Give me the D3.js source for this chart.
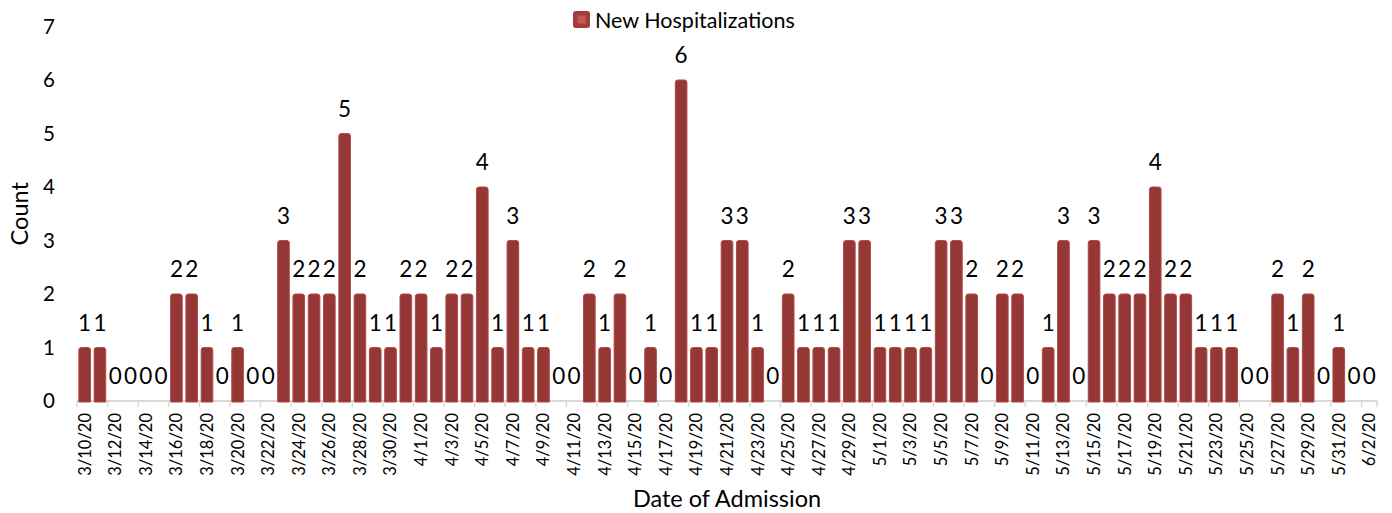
<!DOCTYPE html>
<html>
<head>
<meta charset="utf-8">
<script src="https://cdn.jsdelivr.net/npm/d3@7"></script>
<style>
  body { margin: 0; background: #fff; }
  svg { display: block; font-family: Lato, "Open Sans", sans-serif; }
</style>
</head>
<body>
<svg id="chart" width="1392" height="513"></svg>
<script>
// daily admissions, 3/10/20 - 6/2/20
const dates = [
  '3/10/20','3/11/20','3/12/20','3/13/20','3/14/20','3/15/20','3/16/20','3/17/20','3/18/20','3/19/20',
  '3/20/20','3/21/20','3/22/20','3/23/20','3/24/20','3/25/20','3/26/20','3/27/20','3/28/20','3/29/20',
  '3/30/20','3/31/20','4/1/20','4/2/20','4/3/20','4/4/20','4/5/20','4/6/20','4/7/20','4/8/20',
  '4/9/20','4/10/20','4/11/20','4/12/20','4/13/20','4/14/20','4/15/20','4/16/20','4/17/20','4/18/20',
  '4/19/20','4/20/20','4/21/20','4/22/20','4/23/20','4/24/20','4/25/20','4/26/20','4/27/20','4/28/20',
  '4/29/20','4/30/20','5/1/20','5/2/20','5/3/20','5/4/20','5/5/20','5/6/20','5/7/20','5/8/20',
  '5/9/20','5/10/20','5/11/20','5/12/20','5/13/20','5/14/20','5/15/20','5/16/20','5/17/20','5/18/20',
  '5/19/20','5/20/20','5/21/20','5/22/20','5/23/20','5/24/20','5/25/20','5/26/20','5/27/20','5/28/20',
  '5/29/20','5/30/20','5/31/20','6/1/20','6/2/20'
];
const newHosp = [
  1,1,0,0,0,0,2,2,1,0,
  1,0,0,3,2,2,2,5,2,1,
  1,2,2,1,2,2,4,1,3,1,
  1,0,0,2,1,2,0,1,0,6,
  1,1,3,3,1,0,2,1,1,1,
  3,3,1,1,1,1,3,3,2,0,
  2,2,0,1,3,0,3,2,2,2,
  4,2,2,1,1,1,0,0,2,1,
  2,0,1,0,0
];
const yTicks = [0,1,2,3,4,5,6,7];
const seriesName = 'New Hospitalizations';

const barColor = '#953735';
const barEdge = '#b04947';
const axisColor = '#d9d9d9';

const svg = d3.select('#chart');
const pad = 0.24;

let x = d3.scaleBand()
  .domain(dates)
  .range([77, 1377])
  .paddingInner(pad)
  .paddingOuter(pad / 2);

let y = d3.scaleLinear().domain([0, 7]).range([401, 26.5]);

// x axis line + boundary ticks every 2 days
let xAxis = svg.append('g').attr('transform', 'translate(0,401)');
xAxis.append('line')
  .attr('x1', x.range()[0]).attr('x2', x.range()[1])
  .attr('stroke', axisColor).attr('stroke-width', 2);

let half = x.step() * pad / 2;
let tickCats = dates.filter((d, i) => i % 2 === 0);
let tickPos = tickCats.map(d => x(d) - half).concat([x.range()[1]]);
xAxis.selectAll('line.tick')
  .data(tickPos)
  .join('line')
  .attr('class', 'tick')
  .attr('x1', d => d).attr('x2', d => d)
  .attr('y1', 0).attr('y2', 6)
  .attr('stroke', axisColor).attr('stroke-width', 1.5);

xAxis.selectAll('text.lbl')
  .data(tickCats)
  .join('text')
  .attr('class', 'lbl')
  .attr('transform', d => `translate(${x(d) + x.bandwidth() / 2},12) rotate(-90)`)
  .attr('dy', '0.36em')
  .attr('text-anchor', 'end')
  .attr('font-size', 16.5)
  .attr('fill', '#000')
  .text(d => d);

// y tick labels (no axis line)
svg.append('g')
  .selectAll('text')
  .data(yTicks)
  .join('text')
  .attr('x', 55)
  .attr('y', d => y(d))
  .attr('dy', '0.36em')
  .attr('text-anchor', 'end')
  .attr('font-size', 20.5)
  .attr('fill', '#000')
  .text(d => d);

// bars, rounded top corners
let bars = svg.append('g');
newHosp.forEach((v, i) => {
  if (v <= 0) return;
  let x0 = x(dates[i]), w = x.bandwidth();
  let top = y(v), bot = y(0) + 1, r = 2.5;
  bars.append('path')
    .attr('d', `M${x0},${bot} V${top + r} Q${x0},${top} ${x0 + r},${top} H${x0 + w - r} Q${x0 + w},${top} ${x0 + w},${top + r} V${bot} Z`)
    .attr('fill', barColor)
    .attr('stroke', barEdge)
    .attr('stroke-width', 1);
});

// data labels
svg.append('g')
  .selectAll('text')
  .data(newHosp)
  .join('text')
  .attr('x', (d, i) => x(dates[i]) + x.bandwidth() / 2)
  .attr('y', d => y(d) - 17)
  .attr('text-anchor', 'middle')
  .attr('font-size', 22.5)
  .attr('fill', '#000')
  .text(d => d);

// axis titles
svg.append('text')
  .attr('transform', `translate(28,${(y(0) + y(7)) / 2}) rotate(-90)`)
  .attr('text-anchor', 'middle')
  .attr('font-size', 23.5)
  .attr('fill', '#000')
  .text('Count');

svg.append('text')
  .attr('x', (x.range()[0] + x.range()[1]) / 2)
  .attr('y', 507)
  .attr('text-anchor', 'middle')
  .attr('font-size', 23.5)
  .attr('fill', '#000')
  .text('Date of Admission');

// legend
let legend = svg.append('g').attr('transform', 'translate(573,11)');
legend.append('rect')
  .attr('width', 17).attr('height', 17).attr('rx', 3)
  .attr('fill', '#a23d3b');
legend.append('rect')
  .attr('x', 4.5).attr('y', 4.5).attr('width', 8).attr('height', 8)
  .attr('fill', '#c85857');
legend.append('text')
  .attr('x', 22).attr('y', 16.5)
  .attr('font-size', 21.5)
  .attr('fill', '#000')
  .text(seriesName);
</script>
</body>
</html>
